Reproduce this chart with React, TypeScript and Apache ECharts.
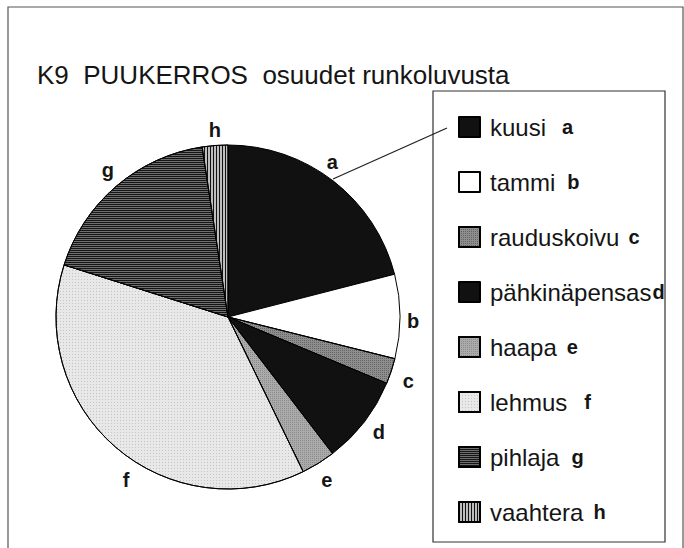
import React, { useEffect, useRef } from "react";
import * as echarts from "echarts";

const titleText = "K9  PUUKERROS  osuudet runkoluvusta";
const names = ["kuusi", "tammi", "rauduskoivu", "pähkinäpensas", "haapa", "lehmus", "pihlaja", "vaahtera"];
const letters = ["a", "b", "c", "d", "e", "f", "g", "h"];
const values = [21.0, 7.9, 2.4, 8.3, 3.2, 37.1, 17.7, 2.4];

// gap (px) between legend name and its letter, per row
const letterGaps = [16, 12, 9, 1, 10, 17, 12, 10];
// nudges of the pie letters (px)
const labelNudges = [[-11, -6], [-3, 5], [2, 5], [2, 0], [0, 3], [21, 21], [2, -4], [1, 0]];

const FONT = "'Liberation Sans', Arial, sans-serif";

const fills: any[] = [
  { color: "#111111" },
  { color: "#ffffff" },
  { color: "#8e8e8e", decal: { symbol: "rect", symbolSize: 1, dashArrayX: [1, 1], dashArrayY: [1, 1], color: "rgba(50,50,50,0.45)" } },
  { color: "#111111" },
  { color: "#ababab", decal: { symbol: "rect", symbolSize: 1, dashArrayX: [1, 1], dashArrayY: [1, 1], color: "rgba(80,80,80,0.35)" } },
  { color: "#e8e8e8", decal: { symbol: "rect", symbolSize: 1, dashArrayX: [1, 2], dashArrayY: [1, 2], color: "rgba(160,160,160,0.5)" } },
  { color: "#6e6e6e", decal: { symbol: "rect", symbolSize: 1, dashArrayX: [1, 0], dashArrayY: [1, 1], color: "#151515" } },
  { color: "#bdbdbd", decal: { symbol: "rect", symbolSize: 1, dashArrayX: [1, 1.8], dashArrayY: [1, 0], color: "#111111" } },
];

export default function App() {
  const ref = useRef<HTMLDivElement>(null);
  useEffect(() => {
    if (!ref.current) return;
    const chart = echarts.init(ref.current, undefined, { renderer: "svg" });
    const data = names.map((n, i) => ({
      name: n,
      value: values[i],
      itemStyle: { ...fills[i], borderColor: "#000", borderWidth: 1 },
    }));
    const rich: any = {
      n: { fontFamily: FONT, fontSize: 24, color: "#151515" },
    };
    letters.forEach((l, i) => {
      rich["l" + i] = {
        fontFamily: FONT,
        fontSize: 20,
        fontWeight: "bold",
        color: "#151515",
        padding: [0, 0, 0, letterGaps[i]],
      };
    });
    chart.setOption({
      animation: false,
      backgroundColor: "#ffffff",
      title: {
        text: titleText,
        left: 32,
        top: 57,
        textStyle: { fontFamily: FONT, fontSize: 26, fontWeight: "normal", color: "#151515" },
      },
      legend: {
        orient: "vertical",
        left: 453,
        top: 110,
        itemWidth: 21,
        itemHeight: 20,
        itemGap: 31,
        icon: "rect",
        data: names,
        formatter: (name: string) => {
          const i = names.indexOf(name);
          return `{n|${name}}{l${i}|${letters[i]}}`;
        },
        textStyle: {
          padding: [0, 0, 0, 5],
          rich,
        },
      },
      graphic: [
        { type: "rect", shape: { x: 8, y: 7, width: 675, height: 620 }, style: { fill: "none", stroke: "#555", lineWidth: 1.2 }, silent: true },
        { type: "rect", shape: { x: 433, y: 91, width: 232, height: 451 }, style: { fill: "none", stroke: "#333", lineWidth: 1.2 }, silent: true },
        { type: "line", shape: { x1: 333, y1: 179, x2: 447, y2: 128 }, style: { stroke: "#222", lineWidth: 1.3 }, silent: true },
      ],
      series: [
        {
          type: "pie",
          center: [228, 317],
          radius: 172,
          startAngle: 90,
          clockwise: true,
          avoidLabelOverlap: false,
          data,
          label: {
            show: true,
            position: "outside",
            distanceToLabelLine: 0,
            formatter: (p: any) => letters[p.dataIndex],
            fontFamily: FONT,
            fontSize: 20,
            fontWeight: "bold",
            color: "#151515",
          },
          labelLine: { show: false, length: 16, length2: 0 },
          labelLayout: (p: any) => ({
            align: "center",
            verticalAlign: "middle",
            dx: labelNudges[p.dataIndex][0],
            dy: labelNudges[p.dataIndex][1],
          }),
          emphasis: { disabled: true },
        },
      ],
    });
    return () => chart.dispose();
  }, []);
  return <div ref={ref} style={{ position: "absolute", left: 0, top: 0, width: 684, height: 548 }} />;
}
